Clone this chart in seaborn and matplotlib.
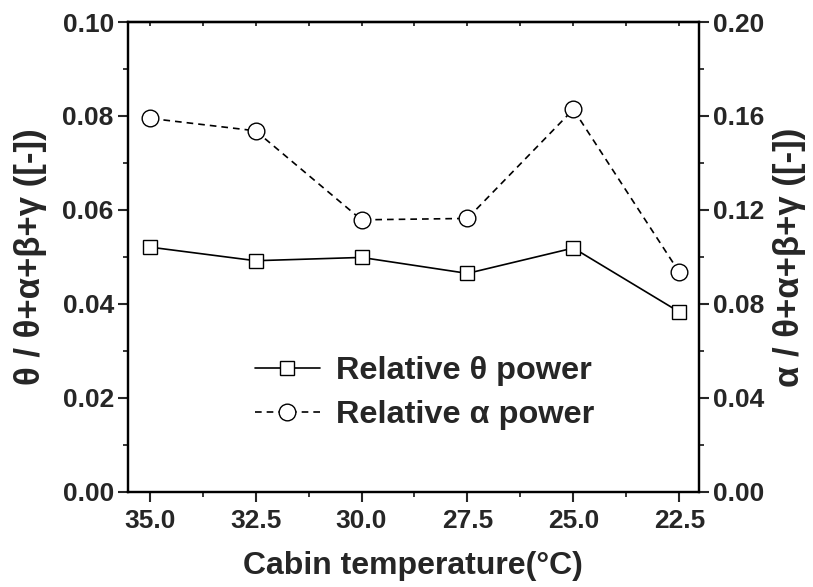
import matplotlib
matplotlib.use("Agg")
import matplotlib.pyplot as plt
from matplotlib.ticker import MultipleLocator
import seaborn as sns
import pandas as pd

# Cabin temperature set points and relative EEG band power
temperature = [35.0, 32.5, 30.0, 27.5, 25.0, 22.5]
theta_rel = [0.0521, 0.0492, 0.0499, 0.0465, 0.0519, 0.0383]
alpha_rel = [0.1590, 0.1537, 0.1158, 0.1164, 0.1628, 0.0935]
tick_labels = ["35.0", "32.5", "30.0", "27.5", "25.0", "22.5"]

df = pd.DataFrame({"temp": temperature, "theta": theta_rel, "alpha": alpha_rel})

sns.set_theme(style="ticks")
plt.rcParams["font.family"] = ["Liberation Sans", "DejaVu Sans"]
plt.rcParams["font.weight"] = "bold"
plt.rcParams["axes.linewidth"] = 1.6

fig = plt.figure(figsize=(8.13, 5.87), dpi=100)
ax = fig.add_axes([0.157, 0.162, 0.703, 0.8005])
ax2 = ax.twinx()

sns.lineplot(data=df, x="temp", y="theta", ax=ax, color="black", lw=1.2,
             marker="s", markersize=10, markerfacecolor="white",
             markeredgecolor="black", markeredgewidth=1.0,
             label="Relative \u03b8 power", legend=False)
sns.lineplot(data=df, x="temp", y="alpha", ax=ax2, color="black", lw=1.2,
             linestyle=(0, (4, 3)), marker="o", markersize=12,
             markerfacecolor="white", markeredgecolor="black",
             markeredgewidth=1.0, label="Relative \u03b1 power", legend=False)

ax.set_xlim(35.52, 22.03)
ax.set_ylim(0, 0.10)
ax2.set_ylim(0, 0.20)

ax.set_xticks(temperature)
ax.set_xticklabels(tick_labels)
ax.xaxis.set_minor_locator(MultipleLocator(1.25))
ax.yaxis.set_major_locator(MultipleLocator(0.02))
ax.yaxis.set_minor_locator(MultipleLocator(0.01))
ax2.yaxis.set_major_locator(MultipleLocator(0.04))
ax2.yaxis.set_minor_locator(MultipleLocator(0.02))
ax.set_yticklabels([f"{v:.2f}" for v in ax.get_yticks()])
ax2.set_yticklabels([f"{v:.2f}" for v in ax2.get_yticks()])

for a in (ax, ax2):
    a.tick_params(axis="both", which="major", direction="out", length=7,
                  width=1.5, labelsize=19, pad=3)
    a.tick_params(axis="both", which="minor", direction="out", length=3.5,
                  width=1.3)
ax.tick_params(axis="x", which="major", pad=5)

# small inward ticks along the top frame
top = ax.secondary_xaxis("top")
top.xaxis.set_major_locator(MultipleLocator(1.25))
top.tick_params(axis="x", which="major", direction="in", length=3, width=1.3,
                labeltop=False)
top.spines["top"].set_linewidth(1.6)

for a in (ax, ax2):
    for s in a.spines.values():
        s.set_visible(True)
        s.set_linewidth(1.6)
        s.set_color("black")

ax.set_xlabel("Cabin temperature(\u00b0C)", fontsize=23, fontweight="bold",
              labelpad=13)
ax.set_ylabel("\u03b8 / \u03b8+\u03b1+\u03b2+\u03b3 ([-])", fontsize=25,
              fontweight="bold", labelpad=11)
ax2.set_ylabel("\u03b1 / \u03b8+\u03b1+\u03b2+\u03b3 ([-])", fontsize=25,
               fontweight="bold", labelpad=6, rotation=90)

h1, l1 = ax.get_legend_handles_labels()
h2, l2 = ax2.get_legend_handles_labels()
ax2.legend(h1 + h2, l1 + l2, loc="center left", bbox_to_anchor=(0.222, 0.21),
           frameon=False, handlelength=2.0, handletextpad=0.5,
           labelspacing=0.42, borderpad=0, borderaxespad=0,
           prop={"family": ["Liberation Sans", "DejaVu Sans"],
                 "weight": "bold", "size": 23.4})

fig.savefig("out.png", dpi=100)
